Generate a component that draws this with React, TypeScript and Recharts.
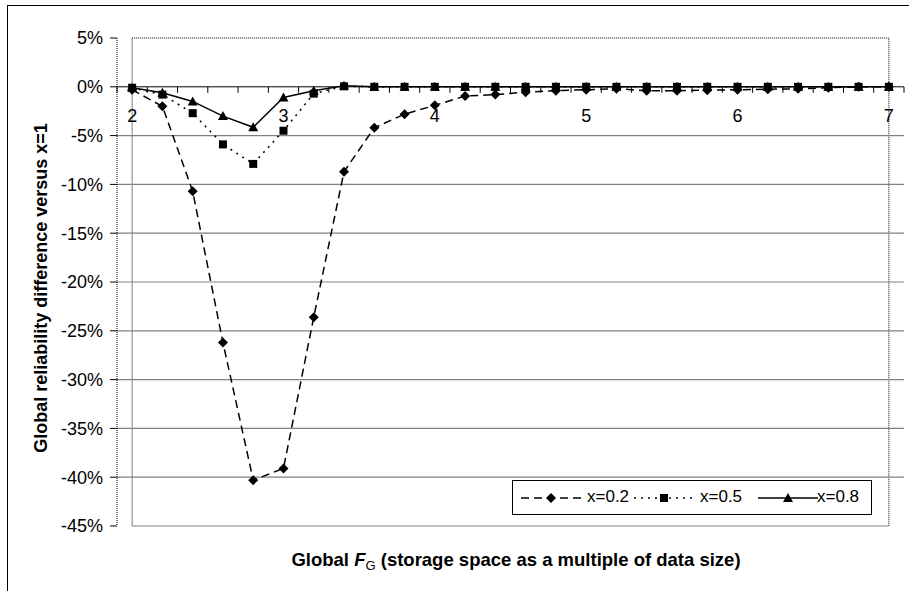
import React from "react";
import { LineChart, Line, XAxis, YAxis, ReferenceLine, ReferenceArea } from "recharts";

// storage factor F_G, one point every 0.2
const FG = [2, 2.2, 2.4, 2.6, 2.8, 3, 3.2, 3.4, 3.6, 3.8, 4, 4.2, 4.4, 4.6, 4.8, 5, 5.2, 5.4, 5.6, 5.8, 6, 6.2, 6.4, 6.6, 6.8, 7];

// reliability difference versus x=1, in %
const X02 = [-0.3, -2.0, -10.7, -26.2, -40.3, -39.1, -23.6, -8.7, -4.2, -2.8, -1.9, -0.95, -0.8, -0.55, -0.4, -0.3, -0.2, -0.4, -0.4, -0.35, -0.3, -0.25, -0.2, -0.1, 0, 0];
const X05 = [-0.1, -0.8, -2.7, -5.9, -7.9, -4.5, -0.7, 0.05, 0, 0, 0, 0, 0, 0, 0, 0, 0, 0, 0, 0, 0, 0, 0, 0, 0, 0];
const X08 = [-0.1, -0.6, -1.5, -3.0, -4.15, -1.1, -0.4, 0.1, 0, 0, 0, 0, 0, 0, 0, 0, 0, 0, 0, 0, 0, 0, 0, 0, 0, 0];

const Y_TICKS = [-45, -40, -35, -30, -25, -20, -15, -10, -5, 0, 5];
const GRID = [-40, -35, -30, -25, -20, -15, -10, -5];
const X_LABELS = [2, 3, 4, 5, 6, 7];

const data = FG.map((x, i) => ({ x, a: X02[i], b: X05[i], c: X08[i] }));

const W = 909;
const H = 591;
const X_H = 20;
const M = { top: 38, right: 5, bottom: 65 - X_H, left: 0 };
const Y_W = 117;
const PLOT_W = W - M.right - M.left - Y_W;
const PLOT_H = H - M.top - M.bottom - X_H;
const BAND = PLOT_W / FG.length;
const ZERO_Y = M.top + PLOT_H * (5 / 50);
const FONT = "'Liberation Sans', Arial, sans-serif";

const Diamond = ({ cx, cy, s = 5 }: any) => (
  <path d={`M${cx},${cy - s}L${cx + s},${cy}L${cx},${cy + s}L${cx - s},${cy}Z`} fill="#000" />
);
const Square = ({ cx, cy, s = 4 }: any) => (
  <rect x={cx - s} y={cy - s} width={s * 2} height={s * 2} fill="#000" />
);
const Triangle = ({ cx, cy, s = 5 }: any) => (
  <path d={`M${cx},${cy - s}L${cx + s},${cy + s - 1}L${cx - s},${cy + s - 1}Z`} fill="#000" />
);

// x axis sits on the 0% line, tick marks between categories
const XTick = (props: any) => {
  const { x, payload, index } = props;
  const v = Number(payload.value);
  const left = x - BAND / 2;
  return (
    <g>
      <line x1={left} x2={left} y1={ZERO_Y} y2={ZERO_Y + 6} stroke="#000" />
      {index === FG.length - 1 && (
        <line x1={x + BAND / 2} x2={x + BAND / 2} y1={ZERO_Y} y2={ZERO_Y + 6} stroke="#000" />
      )}
      {X_LABELS.includes(v) && (
        <text x={x} y={ZERO_Y + 35} textAnchor="middle" fontFamily={FONT} fontSize={18} fill="#000">
          {v}
        </text>
      )}
    </g>
  );
};

const series = [
  { name: "x=0.2", dash: "8 5", Mark: Diamond },
  { name: "x=0.5", dash: "2 5", Mark: Square },
  { name: "x=0.8", dash: undefined, Mark: Triangle },
];

const ChartLegend = () => {
  const pos = [
    { s: 6, t: 74 },
    { s: 119, t: 187 },
    { s: 243, t: 304 },
  ];
  return (
    <div
      style={{
        position: "absolute",
        left: 512,
        top: 480,
        width: 358,
        height: 33,
        border: "1px solid #000",
        background: "#fff",
        fontFamily: FONT,
        fontSize: 17,
      }}
    >
      {series.map((s, i) => (
        <React.Fragment key={s.name}>
          <svg style={{ position: "absolute", left: pos[i].s, top: 6 }} width={64} height={22}>
            <line x1={2} x2={62} y1={11} y2={11} stroke="#000" strokeWidth={1.5} strokeDasharray={s.dash} />
            <s.Mark cx={32} cy={11} s={i === 1 ? 4 : 5} />
          </svg>
          <span style={{ position: "absolute", left: pos[i].t, top: 6, lineHeight: "20px" }}>{s.name}</span>
        </React.Fragment>
      ))}
    </div>
  );
};

export default function App() {
  return (
    <div style={{ position: "absolute", left: 0, top: 0, width: W, height: H, overflow: "hidden", background: "#fff" }}>
      <div style={{ position: "absolute", left: 7, top: 5, width: W + 20, height: H + 20, border: "1px solid #000" }} />
      <div style={{ position: "absolute", left: 0, top: 0 }}>
        <LineChart width={W} height={H} data={data} margin={M}>
          <XAxis
            dataKey="x"
            type="category"
            height={X_H}
            axisLine={false}
            tickLine={false}
            interval={0}
            padding={{ left: BAND / 2, right: BAND / 2 }}
            tick={<XTick />}
          />
          <YAxis
            domain={[-45, 5]}
            ticks={Y_TICKS}
            width={Y_W}
            interval={0}
            tickFormatter={(v) => `${v}%`}
            tick={{ fontFamily: FONT, fontSize: 18, fill: "#000" }}
            tickSize={7}
            tickMargin={7}
            tickLine={{ stroke: "#000" }}
            axisLine={{ stroke: "#000", strokeDasharray: "1 1" }}
          />
          <ReferenceArea y1={-45} y2={5} fill="none" stroke="#000" strokeDasharray="1 1" />
          {GRID.map((g) => (
            <ReferenceLine key={g} y={g} stroke="#808080" strokeWidth={1.2} />
          ))}
          <ReferenceLine y={0} stroke="#000" />
          <Line
            dataKey="a"
            name="x=0.2"
            stroke="#000"
            strokeWidth={1.5}
            strokeDasharray="8 5"
            isAnimationActive={false}
            dot={(p: any) => <Diamond key={p.index} cx={p.cx} cy={p.cy} />}
          />
          <Line
            dataKey="b"
            name="x=0.5"
            stroke="#000"
            strokeWidth={1.5}
            strokeDasharray="2 5"
            isAnimationActive={false}
            dot={(p: any) => <Square key={p.index} cx={p.cx} cy={p.cy} />}
          />
          <Line
            dataKey="c"
            name="x=0.8"
            stroke="#000"
            strokeWidth={1.5}
            isAnimationActive={false}
            dot={(p: any) => <Triangle key={p.index} cx={p.cx} cy={p.cy} />}
          />
        </LineChart>
      </div>
      <ChartLegend />
      <svg style={{ position: "absolute", left: 0, top: 0, pointerEvents: "none" }} width={W} height={H}>
        <text
          transform={`translate(47, 288) rotate(-90)`}
          textAnchor="middle"
          fontFamily={FONT}
          fontSize={18}
          fontWeight="bold"
          fill="#000"
        >
          Global reliability difference versus x=1
        </text>
        <text x={516} y={566} textAnchor="middle" fontFamily={FONT} fontSize={18.5} fontWeight="bold" fill="#000">
          Global <tspan fontStyle="italic">F</tspan>
          <tspan fontSize={13} fontWeight="normal" dy={4}>G</tspan>
          <tspan dy={-4}> (storage space as a multiple of data size)</tspan>
        </text>
      </svg>
    </div>
  );
}
